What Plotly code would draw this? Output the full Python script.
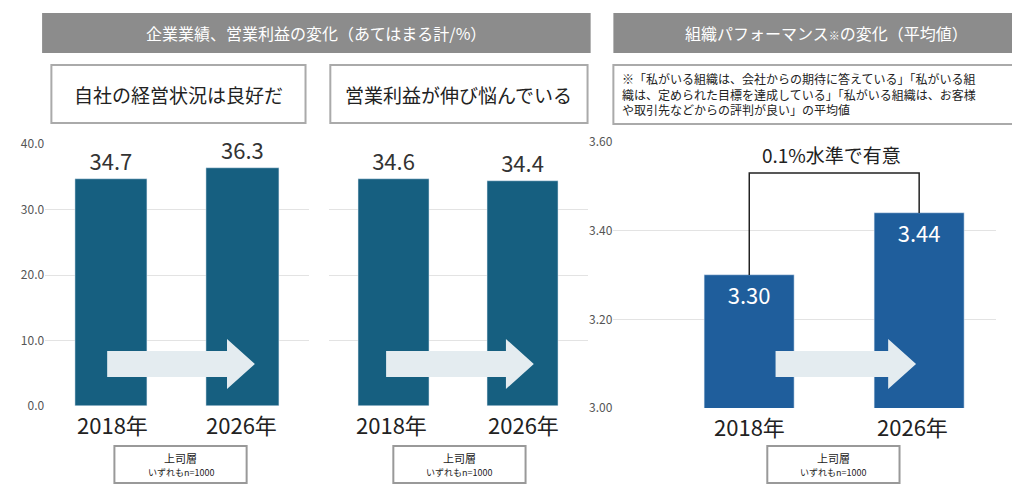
import plotly.graph_objects as go

years = ["2018年", "2026年"]
perf_vals = [34.7, 36.3]
profit_vals = [34.6, 34.4]
org_vals = [3.30, 3.44]
left_ticks = [0, 10, 20, 30, 40]
right_ticks = [3.00, 3.20, 3.40, 3.60]

W, H = 1020, 500
SX, OX, SY, OY = 0.968, 9, 0.966, 17
def px(x): return (x - OX) / SX / W
def py(y): return 1 - (y - OY) / SY / H

F = "Noto Sans CJK JP"
fig = go.Figure()
xs = [0, 1]
fig.add_bar(x=xs, y=perf_vals, width=0.55, marker_color="#165f80", xaxis="x", yaxis="y",
            text=[f"{v:.1f}" for v in perf_vals], textposition="outside",
            textfont=dict(size=22, color="#333"), cliponaxis=False)
fig.add_bar(x=xs, y=profit_vals, width=0.55, marker_color="#165f80", xaxis="x2", yaxis="y2",
            text=[f"{v:.1f}" for v in profit_vals], textposition="outside",
            textfont=dict(size=22, color="#333"), cliponaxis=False)
fig.add_bar(x=xs, y=org_vals, width=0.53, marker_color="#1f5e9c", xaxis="x3", yaxis="y3",
            text=[f"{v:.2f}" for v in org_vals], textposition="inside", insidetextanchor="end",
            textfont=dict(size=22, color="white"), cliponaxis=False)
fig.add_scatter(x=[0, 0, 1, 1], y=[org_vals[0], 3.53, 3.53, org_vals[1]], mode="lines",
                line=dict(color="#222", width=1.5), xaxis="x3", yaxis="y3", hoverinfo="skip")

ax = dict(showgrid=False, showticklabels=False, zeroline=False, fixedrange=True)
gy = dict(gridcolor="#e3e3e3", zeroline=False, tickfont=dict(size=12, color="#555"), fixedrange=True)
fig.update_layout(
    width=W, height=H, margin=dict(l=0, r=0, t=0, b=0), showlegend=False,
    plot_bgcolor="white", paper_bgcolor="white", font=dict(family=F), bargap=0,
    xaxis=dict(domain=[px(45), px(300)], range=[-0.5, 1.5], **ax),
    xaxis2=dict(domain=[px(320), px(570)], range=[-0.5, 1.5], **ax),
    xaxis3=dict(domain=[px(595), px(965)], range=[-0.8, 1.45], **ax),
    yaxis=dict(domain=[py(405), py(143)], range=[0, 40], tickvals=left_ticks,
               ticktext=[f"{v:.1f}" for v in left_ticks], anchor="x", **gy),
    yaxis2=dict(domain=[py(405), py(143)], range=[0, 40], tickvals=left_ticks,
                showticklabels=False, anchor="x2", **gy),
    yaxis3=dict(domain=[py(407), py(141)], range=[3.0, 3.6], tickvals=right_ticks,
                ticktext=[f"{v:.2f}" for v in right_ticks], anchor="x3", **gy),
)

shapes = []
ann = []
def rect(x0, y0, x1, y1, fill, line=None):
    shapes.append(dict(type="rect", xref="paper", yref="paper", x0=px(x0), x1=px(x1),
                       y0=py(y1), y1=py(y0), fillcolor=fill,
                       line=dict(color=line or fill, width=2 if line else 0), layer="below"))
def text(x, y, s, size, color="#222", xanchor="center", **kw):
    ann.append(dict(xref="paper", yref="paper", x=px(x), y=py(y), text=s, showarrow=False,
                    xanchor=xanchor, yanchor="middle",
                    font=dict(size=size, color=color, family=F), **kw))

rect(42, 12, 573, 52, "#8c8c8c")
text(307, 32, "企業業績、営業利益の変化（あてはまる計/%）", 16, "white")
rect(595, 12, 1007, 52, "#8c8c8c")
text(801, 32, "組織パフォーマンス<span style='font-size:11px'>※</span>の変化（平均値）", 16, "white")
rect(51, 64, 297, 122, "white", "#aaaaaa")
text(174, 93, "自社の経営状況は良好だ", 19)
rect(321, 64, 570, 122, "white", "#aaaaaa")
text(445, 93, "営業利益が伸び悩んでいる", 19)
rect(595, 64, 1007, 123, "white", "#aaaaaa")
text(601, 93, "※「私がいる組織は、会社からの期待に答えている」「私がいる組<br>織は、定められた目標を達成している」「私がいる組織は、お客様<br>や取引先などからの評判が良い」の平均値",
     12, align="left", xanchor="left")
text(806, 153, "0.1%水準で有意", 19)

for (x0, x1) in [(105, 248), (375, 518), (752, 888)]:
    xb = x1 - 27
    path = (f"M{px(x0)},{py(350)} L{px(xb)},{py(350)} L{px(xb)},{py(338)} L{px(x1)},{py(363)} "
            f"L{px(xb)},{py(388)} L{px(xb)},{py(376)} L{px(x0)},{py(376)} Z")
    shapes.append(dict(type="path", xref="paper", yref="paper", path=path,
                       fillcolor="#e4ecf0", line=dict(width=0), layer="above"))

for c0, c1, ypos in [(110, 235, 423), (380, 508, 423), (727, 885, 425)]:
    text(c0, ypos, years[0], 22)
    text(c1, ypos, years[1], 22)

for cx in [176, 446, 808]:
    rect(cx - 64, 445, cx + 64, 482, "white", "#999999")
    text(cx, 457, "上司層", 11)
    text(cx, 471, "いずれもn=1000", 9)

fig.update_layout(shapes=shapes, annotations=ann)
fig.write_html("out.html")
